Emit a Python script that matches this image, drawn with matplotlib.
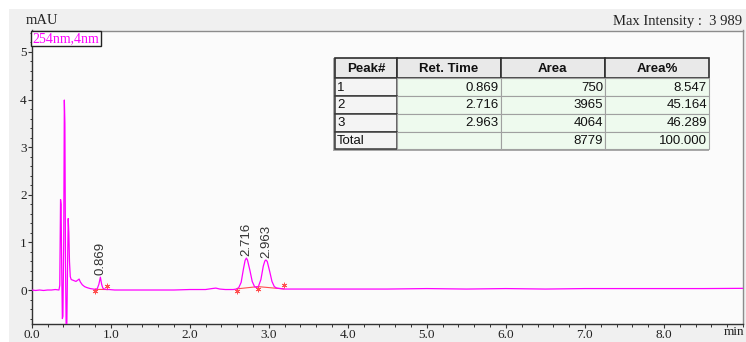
import matplotlib
matplotlib.use("Agg")
import matplotlib.pyplot as plt
import matplotlib.transforms as mtransforms
from matplotlib.patches import Rectangle
from matplotlib.ticker import MultipleLocator, FixedLocator
import numpy as np

# ---------------- data ----------------
# chromatogram trace (time in min, signal in mAU)
trace_t = [0.00, 0.05, 0.10, 0.15, 0.20, 0.25, 0.30, 0.345, 0.355, 0.365,
           0.372, 0.380, 0.388, 0.395, 0.405, 0.413, 0.420, 0.428, 0.436, 0.444,
           0.452, 0.462, 0.470, 0.478, 0.488, 0.50, 0.53, 0.56, 0.585, 0.60,
           0.615, 0.64, 0.67, 0.70, 0.74, 0.78, 0.81, 0.83, 0.85, 0.869,
           0.885, 0.90, 0.92, 0.95, 0.98, 1.05, 1.2, 1.4, 1.6, 1.8,
           2.0, 2.2, 2.28, 2.33, 2.38, 2.45, 2.55, 2.59, 2.62, 2.65,
           2.68, 2.70, 2.716, 2.73, 2.76, 2.79, 2.82, 2.845, 2.87, 2.90,
           2.93, 2.95, 2.963, 2.98, 3.01, 3.04, 3.07, 3.10, 3.15, 3.2,
           3.4, 3.7, 4.0, 4.5, 5.0, 5.5, 6.0, 6.5, 7.0, 7.5,
           8.0, 8.5, 9.0]
trace_mau = [0.00, -0.01, 0.00, -0.01, 0.00, 0.00, 0.01, 0.00, 0.10, 1.90,
             1.80, 0.40, -0.60, -0.55, 1.00, 3.989, 3.50, 0.50, -0.80, -0.80,
             0.30, 1.50, 1.20, 0.60, 0.28, 0.22, 0.20, 0.18, 0.21, 0.23,
             0.17, 0.11, 0.07, 0.05, 0.03, 0.02, 0.01, 0.03, 0.12, 0.27,
             0.12, 0.04, 0.02, 0.01, 0.01, 0.00, 0.00, 0.00, 0.00, 0.00,
             0.01, 0.01, 0.03, 0.04, 0.02, 0.01, 0.01, 0.02, 0.05, 0.16,
             0.45, 0.62, 0.67, 0.63, 0.42, 0.18, 0.07, 0.05, 0.08, 0.22,
             0.50, 0.61, 0.63, 0.60, 0.40, 0.18, 0.07, 0.04, 0.03, 0.02,
             0.02, 0.02, 0.02, 0.02, 0.03, 0.02, 0.03, 0.02, 0.03, 0.03,
             0.03, 0.03, 0.035]

# peak table
peak_no = ["1", "2", "3"]
ret_time = [0.869, 2.716, 2.963]
peak_area = [750, 3965, 4064]
area_pct = [8.547, 45.164, 46.289]
total_area = 8779
total_pct = 100.000

# integration baselines: (start, [valley], end) in min
integ_segments = [[0.80, 0.957], [2.593, 2.863, 3.19]]

x_ticks = [0.0, 1.0, 2.0, 3.0, 4.0, 5.0, 6.0, 7.0, 8.0]
y_ticks = [0, 1, 2, 3, 4, 5]
max_intensity = "3 989"

# ---------------- figure ----------------
W, H = 746, 342
fig = plt.figure(figsize=(W / 100, H / 100), dpi=100, facecolor="white")
fig.patches.append(Rectangle((9 / W, 0), 1 - 9 / W, 1 - 9 / H,
                             transform=fig.transFigure, facecolor="#f0f0f0",
                             edgecolor="none", zorder=-10))

serif = "Liberation Serif"
sans = "Liberation Sans"

ax = fig.add_axes([31.7 / W, 1 - 324 / H, (743 - 31.7) / W, (324 - 30.5) / H],
                  zorder=1)
ax.set_facecolor("#fbfbfb")
ax.set_xlim(0, 9.0)
ax.set_ylim(-0.714, 5.45)

ax.plot(trace_t, trace_mau, color="#ff00ff", lw=0.9, zorder=3)

# integration baselines and markers
red = "#ff5050"
down = mtransforms.offset_copy(ax.transData, fig=fig, x=0, y=-2, units="dots")
up = mtransforms.offset_copy(ax.transData, fig=fig, x=0, y=4, units="dots")
for seg in integ_segments:
    ys = np.interp(seg, trace_t, trace_mau)
    ax.plot(seg, ys, color=red, lw=0.8, zorder=2)
    ax.plot(seg[:-1], ys[:-1], ls="none", marker=(6, 2, 0), ms=4,
            mew=0.6, color=red, transform=down, zorder=4)
    ax.plot(seg[-1:], ys[-1:], ls="none", marker=(6, 2, 0), ms=4,
            mew=0.6, color=red, transform=up, zorder=4)

# retention time labels
for rt in ret_time:
    h = np.interp(rt, trace_t, trace_mau)
    ax.annotate(f"{rt:.3f}", (rt, h), xytext=(0, 1.5), textcoords="offset points",
                rotation=90, ha="center", va="bottom", fontsize=9.5,
                family=sans, color="#333333", zorder=5)

# axes styling
ax.xaxis.set_major_locator(FixedLocator(x_ticks))
ax.xaxis.set_minor_locator(MultipleLocator(0.2))
ax.set_xticklabels([f"{v:.1f}" for v in x_ticks])
ax.yaxis.set_major_locator(FixedLocator(y_ticks))
ax.yaxis.set_minor_locator(MultipleLocator(0.2))
ax.set_yticklabels([str(v) for v in y_ticks])
ax.tick_params(which="major", direction="out", length=3, width=0.8,
               color="#333333", labelsize=9.5, pad=0.5, labelcolor="#222222")
ax.tick_params(which="minor", direction="out", length=1.8, width=0.7, color="#333333")
for lab in ax.get_xticklabels() + ax.get_yticklabels():
    lab.set_family(serif)
for side in ("left", "bottom"):
    ax.spines[side].set_color("#333333")
    ax.spines[side].set_linewidth(1.0)
for side in ("top", "right"):
    ax.spines[side].set_color("#8c8c8c")
    ax.spines[side].set_linewidth(1.0)

# ---------------- overlay (pixel coordinates) ----------------
ov = fig.add_axes([0, 0, 1, 1], zorder=10)
ov.set_xlim(0, W)
ov.set_ylim(H, 0)
ov.axis("off")
ov.patch.set_alpha(0)

ov.text(26, 21, "mAU", family=serif, fontsize=10.5, color="#222222",
        ha="left", va="center")
ov.text(742, 21, f"Max Intensity :  {max_intensity}", family=serif, fontsize=10.5,
        color="#222222", ha="right", va="center")
ov.text(734, 332, "min", family=serif, fontsize=9.5, color="#222222",
        ha="center", va="center")

# wavelength tag
ov.add_patch(Rectangle((31, 30.7), 70, 15, facecolor="white",
                       edgecolor="#222222", lw=1.0))
ov.text(66, 38.3, "254nm,4nm", family=serif, fontsize=10, color="#ff00ff",
        ha="center", va="center")

# peak table
cols_x = [335, 397, 500.5, 605, 709]
rows_y = [58.3, 78.3, 96, 114, 132, 149]
ov.add_patch(Rectangle((cols_x[0] - 2, rows_y[0]), cols_x[-1] - cols_x[0] + 2,
                       rows_y[-1] - rows_y[0] + 2, facecolor="#a9a9a9",
                       edgecolor="none"))

header = ["Peak#", "Ret. Time", "Area", "Area%"]
body = [[peak_no[i], f"{ret_time[i]:.3f}", f"{peak_area[i]}", f"{area_pct[i]:.3f}"]
        for i in range(len(peak_no))]
body.append(["Total", "", f"{total_area}", f"{total_pct:.3f}"])

for c in range(4):
    x0, x1 = cols_x[c], cols_x[c + 1]
    y0, y1 = rows_y[0], rows_y[1]
    ov.add_patch(Rectangle((x0, y0), x1 - x0, y1 - y0, facecolor="#e9e9e9",
                           edgecolor="#2e2e2e", lw=1.2))
    ov.text((x0 + x1) / 2, (y0 + y1) / 2 + 0.5, header[c], family=sans,
            fontsize=9.5, weight="bold", color="#111111", ha="center", va="center")

for r, row in enumerate(body):
    y0, y1 = rows_y[r + 1], rows_y[r + 2]
    for c in range(4):
        x0, x1 = cols_x[c], cols_x[c + 1]
        if c == 0:
            ov.add_patch(Rectangle((x0, y0), x1 - x0, y1 - y0, facecolor="#f4f4f4",
                                   edgecolor="#3a3a3a", lw=1.1))
            ov.text(x0 + 2, (y0 + y1) / 2 + 0.5, row[c], family=sans, fontsize=9.5,
                    color="#111111", ha="left", va="center")
        else:
            ov.add_patch(Rectangle((x0, y0), x1 - x0, y1 - y0, facecolor="#eefaee",
                                   edgecolor="#a0a0a0", lw=0.8))
            ov.text(x1 - 2, (y0 + y1) / 2 + 0.5, row[c], family=sans, fontsize=9.5,
                    color="#111111", ha="right", va="center")

fig.savefig("out.png", dpi=100, facecolor=fig.get_facecolor())
